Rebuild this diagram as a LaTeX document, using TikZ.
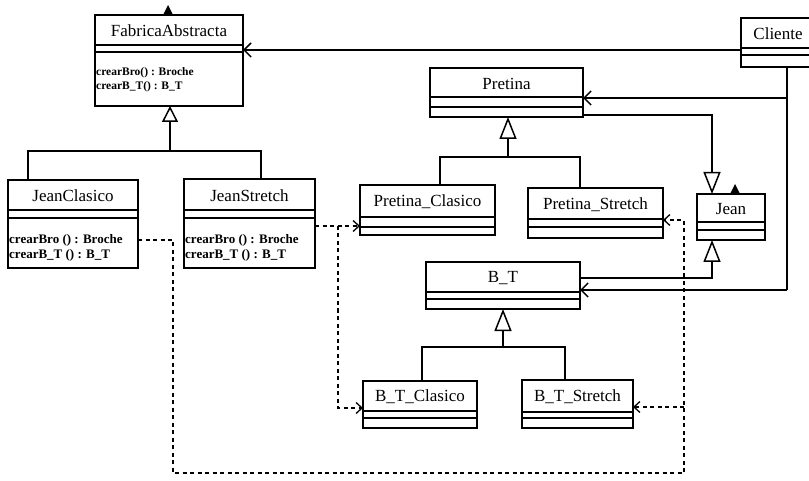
\documentclass[tikz,border=0pt]{standalone}
\usepackage{fontspec}
\setmainfont{Liberation Serif}
\usetikzlibrary{arrows.meta,calc}
\newcommand\umlclass[8]{%
  \node[clsbox,minimum width={(#4-#2)*1pt},minimum height={(#5-#3)*1pt}] (#1) at ({(#2+#4)/2},{(#3+#5)/2}) {};
  \draw[line width=1.5pt] (#2,#6) -- (#4,#6) (#2,#7) -- (#4,#7);
  \node[clsname] (#1-name) at ({(#2+#4)/2},{(#3+#6)/2+1}) {#8};
}
\begin{document}
\begin{tikzpicture}[x=1pt,y=-1pt,
  clsbox/.style={draw,line width=1.5pt,inner sep=0pt,outer sep=0pt,rectangle},
  clsname/.style={font=\fontsize{17}{17}\selectfont,inner sep=0pt},
  attr/.style={font=\bfseries\fontsize{13}{13}\selectfont,inner sep=0pt,anchor=west},
  attrs/.style={font=\bfseries\fontsize{11.5}{12}\selectfont,inner sep=0pt,anchor=west},
  conn/.style={line width=1.5pt},
  gen/.style={line width=1.5pt,-{Triangle[open,length=22pt,width=17pt,line width=1.5pt]}},
  genfab/.style={line width=1.5pt,-{Triangle[open,length=16pt,width=16pt,line width=1.5pt]}},
  assoc/.style={line width=1.5pt,-{Straight Barb[length=7pt,width=14pt,line width=1.5pt]}},
  dep/.style={line width=1.3pt,dash pattern=on 4pt off 3.5pt,-{Straight Barb[length=6pt,width=11pt,line width=1.3pt]}}]
\clip (0,0) rectangle (809,481);
\useasboundingbox (0,0) rectangle (809,481);
\fill[white] (0,0) rectangle (809,481);

% classes
\umlclass{fab}{95}{15}{243}{106}{45}{52}{FabricaAbstracta}
\umlclass{cli}{741}{18}{815}{67}{48}{55}{Cliente}
\umlclass{jc}{8}{180}{138}{268}{210}{218}{JeanClasico}
\umlclass{js}{184}{179}{315}{268}{210}{218}{JeanStretch}
\umlclass{pre}{430}{68}{583}{117}{97}{107}{Pretina}
\umlclass{pc}{360}{185}{495}{235}{217}{227}{Pretina\_Clasico}
\umlclass{ps}{528}{188}{663}{238}{219}{227}{Pretina\_Stretch}
\umlclass{jean}{697}{194}{765}{240}{222}{230}{Jean}
\umlclass{bt}{426}{262}{580}{309}{292}{299}{B\_T}
\umlclass{btc}{363}{381}{477}{428}{411}{418}{B\_T\_Clasico}
\umlclass{bts}{522}{380}{633}{428}{412}{418}{B\_T\_Stretch}

% operations
\node[attrs] (fab-a1) at (96,73) {crearBro() : Broche};
\node[attrs] (fab-a2) at (96,87) {crearB\_T() : B\_T};
\node[attr] (jc-a1) at (9,240) {crearBro () : Broche};
\node[attr] (jc-a2) at (9,255) {crearB\_T () : B\_T};
\node[attr] (js-a1) at (185,240) {crearBro () : Broche};
\node[attr] (js-a2) at (185,255) {crearB\_T () : B\_T};

% small marks on top edges
\fill (163,15) -- (168,5) -- (173,15) -- cycle;
\fill (730,194) -- (735,184) -- (740,194) -- cycle;

% coordinates
\coordinate (fbar) at (170,151);
\coordinate (pbar) at (508,157);
\coordinate (bbar) at (503,347);
\coordinate (c1) at (787,98);
\coordinate (c2) at (787,290);
\coordinate (jg1) at (712,115);
\coordinate (jg2) at (712,278);
\coordinate (d1) at (173,240);
\coordinate (d2) at (173,473);
\coordinate (d3) at (684,473);
\coordinate (d4) at (684,220);
\coordinate (d5) at (684,407);
\coordinate (e1) at (338,226);
\coordinate (e2) at (338,408);

% Cliente associations
\draw[assoc] (cli.west |- 0,50) -- (fab.east |- 0,50);
\draw[conn] (cli.south -| c1) -- (c2);
\draw[assoc] (c1) -- (pre.east |- c1);
\draw[assoc] (c2) -- (bt.east |- c2);

% generalizations to Jean
\draw[gen] (pre.east |- jg1) -- (jg1) -- (jean.north -| jg1);
\draw[gen] (bt.east |- jg2) -- (jg2) -- (jean.south -| jg2);

% hierarchies
\draw[conn] (jc.north -| 28,0) -- (28,151) -- (261,151) -- (js.north -| 261,0);
\draw[genfab] (fbar) -- (fab.south -| fbar);
\draw[conn] (pc.north -| 440,0) -- (440,157) -- (580,157) -- (ps.north -| 580,0);
\draw[gen] (pbar) -- (pre.south -| pbar);
\draw[conn] (btc.north -| 422,0) -- (422,347) -- (565,347) -- (bts.north -| 565,0);
\draw[gen] (bbar) -- (bt.south -| bbar);

% dependencies
\draw[dep] (jc.east |- d1) -- (d1) -- (d2) -- (d3) -- (d4) -- (ps.east |- d4);
\draw[dep] (d5) -- (bts.east |- d5);
\draw[dep] (js.east |- e1) -- (pc.west |- e1);
\draw[dep] (e1) -- (e2) -- (btc.west |- e2);
\end{tikzpicture}
\end{document}
